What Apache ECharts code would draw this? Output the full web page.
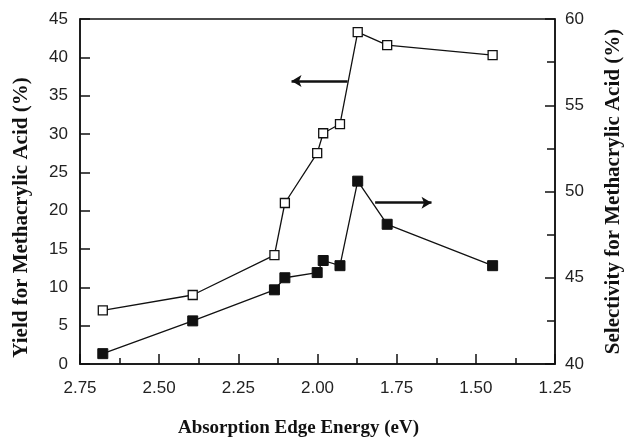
<!DOCTYPE html>
<html>
<head>
<meta charset="utf-8">
<script src="https://cdn.jsdelivr.net/npm/echarts@6/dist/echarts.min.js"></script>
<style>html,body{margin:0;padding:0;background:#fff}#c{width:629px;height:439px}</style>
</head>
<body>
<div id="c"></div>
<script>
// Data
var energy = [2.678, 2.394, 2.136, 2.103, 2.001, 1.982, 1.929, 1.873, 1.780, 1.447];
var yieldVals = [7.0, 9.0, 14.2, 21.0, 27.5, 30.1, 31.3, 43.3, 41.6, 40.3];
var selectivityVals = [40.6, 42.5, 44.3, 45.0, 45.3, 46.0, 45.7, 50.6, 48.1, 45.7];
// Annotation arrows (data coordinates): [x start, x end, y]
var yieldArrow = [1.905, 2.082, 36.9];
var selArrow = [1.818, 1.640, 49.35];

var xTitle = 'Absorption Edge Energy (eV)';
var yLeftTitle = 'Yield for Methacrylic Acid (%)';
var yRightTitle = 'Selectivity for Methacrylic Acid (%)';

function pairs(xs, ys) { return xs.map(function (x, i) { return [x, ys[i]]; }); }

var chart = echarts.init(document.getElementById('c'), null, { renderer: 'canvas' });
var tickFont = { fontFamily: 'Liberation Sans, Arial, sans-serif', fontSize: 17, color: '#222' };
function nameFont(size) {
  return { fontFamily: 'Liberation Serif, Times New Roman, serif', fontSize: size, fontWeight: 'bold', color: '#111' };
}
var axisLine = { show: true, lineStyle: { color: '#111', width: 1.5 } };

chart.setOption({
  animation: false,
  grid: { left: 80, right: 74, top: 19, bottom: 75, outerBoundsMode: 'none', containLabel: false,
          show: true, borderColor: '#111', borderWidth: 1.5, backgroundColor: 'transparent' },
  xAxis: {
    type: 'value', min: 1.25, max: 2.75, interval: 0.25, inverse: true,
    axisLine: axisLine,
    axisTick: { show: true, inside: true, length: 10, lineStyle: { color: '#111', width: 1.5 } },
    minorTick: { show: true, splitNumber: 2, length: 6, lineStyle: { color: '#111', width: 1.5 } },
    splitLine: { show: false },
    axisLabel: Object.assign({ margin: 16, formatter: function (v) { return v.toFixed(2); } }, tickFont),
    name: xTitle, nameLocation: 'middle', nameGap: 55,
    nameTextStyle: Object.assign({ padding: [0, 38, 0, 0] }, nameFont(19))
  },
  yAxis: [{
    type: 'value', min: 0, max: 45, interval: 5, position: 'left',
    axisLine: axisLine,
    axisTick: { show: true, inside: true, length: 10, lineStyle: { color: '#111', width: 1.5 } },
    splitLine: { show: false },
    axisLabel: Object.assign({ margin: 12 }, tickFont),
    name: yLeftTitle, nameLocation: 'middle', nameRotate: 90, nameGap: 48,
    nameTextStyle: Object.assign({ padding: [0, 52, 0, 0] }, nameFont(21))
  }, {
    type: 'value', min: 40, max: 60, interval: 5, position: 'right',
    axisLine: axisLine,
    axisTick: { show: true, inside: true, length: 10, lineStyle: { color: '#111', width: 1.5 } },
    minorTick: { show: true, splitNumber: 2, length: 8, lineStyle: { color: '#111', width: 1.5 } },
    splitLine: { show: false },
    axisLabel: Object.assign({ margin: 10 }, tickFont),
    name: yRightTitle, nameLocation: 'middle', nameRotate: 90, nameGap: 48, nameTextStyle: nameFont(21)
  }],
  series: [{
    name: 'Yield', type: 'line', yAxisIndex: 0, data: pairs(energy, yieldVals),
    symbol: 'rect', symbolSize: 9, z: 3,
    lineStyle: { color: '#111', width: 1.3 },
    itemStyle: { color: '#fff', borderColor: '#111', borderWidth: 1.3 },
    markLine: {
      silent: true, symbol: ['none', 'arrow'], symbolSize: [9, 10], label: { show: false },
      lineStyle: { color: '#111', width: 2.5, type: 'solid' },
      data: [[{ coord: [yieldArrow[0], yieldArrow[2]] }, { coord: [yieldArrow[1], yieldArrow[2]] }]]
    }
  }, {
    name: 'Selectivity', type: 'line', yAxisIndex: 1, data: pairs(energy, selectivityVals),
    symbol: 'rect', symbolSize: 10, z: 3,
    lineStyle: { color: '#111', width: 1.3 },
    itemStyle: { color: '#111', borderColor: '#111', borderWidth: 1 },
    markLine: {
      silent: true, symbol: ['none', 'arrow'], symbolSize: [9, 10], label: { show: false },
      lineStyle: { color: '#111', width: 2.5, type: 'solid' },
      data: [[{ coord: [selArrow[0], selArrow[2]] }, { coord: [selArrow[1], selArrow[2]] }]]
    }
  }]
});
</script>
</body>
</html>
